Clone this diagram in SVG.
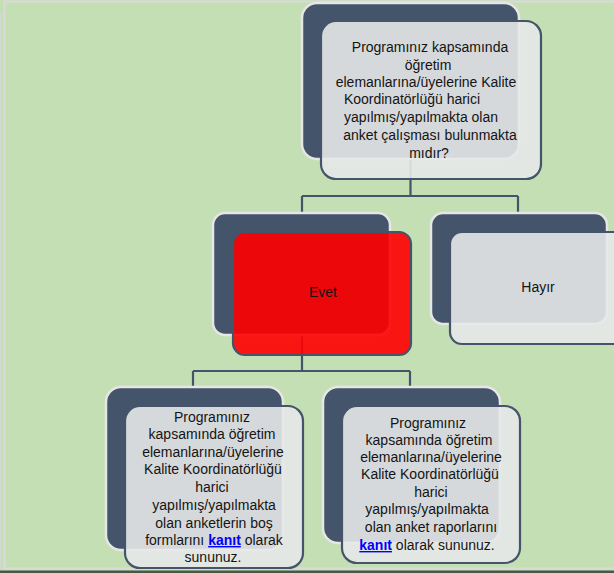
<svg xmlns="http://www.w3.org/2000/svg" width="614" height="573" viewBox="0 0 614 573">
<style>
.back{fill:#44546A;stroke:#E6E6E6;stroke-width:2.5}
.front{fill:#E7E8E8;fill-opacity:0.9;stroke:#44546A;stroke-width:2.2}
.red{fill:#FF0000;fill-opacity:0.9;stroke:#44546A;stroke-width:2.2}
.t{font-family:"Liberation Sans",Arial,sans-serif;font-size:14px;fill:#141414;text-anchor:middle}
.link{fill:#0000FF;font-weight:bold;text-decoration:underline}
.conn{fill:none;stroke:#44546A;stroke-width:2.2}
</style>
<rect x="0" y="0" width="614" height="573" fill="#C4DFB4"/>
<rect x="4.5" y="1.5" width="640" height="567" fill="none" stroke="#DADADA" stroke-width="2"/>
<line x1="1" y1="13" x2="1" y2="573" stroke="#D6D6D6" stroke-width="1.5"/>
<rect x="0" y="570.5" width="614" height="2.5" fill="#4A5646"/>
<g id="connectors">
<path class="conn" d="M410.5,159 V196 M302,196 H518 M302,196 V213 M518,196 V213"/>
<path class="conn" d="M302,335 V371 M193,371 H410 M193,371 V387 M410,371 V387"/>
</g>
<g id="node-question">
<rect class="back" x="302" y="3" width="217" height="156" rx="15"/>
<rect class="front" x="321" y="21" width="220" height="158" rx="15"/>
<text class="t" x="430" y="52">Programınız kapsamında</text>
<text class="t" x="428" y="70">öğretim</text>
<text class="t" x="426" y="87">elemanlarına/üyelerine Kalite</text>
<text class="t" x="412" y="104">Koordinatörlüğü harici</text>
<text class="t" x="421" y="122">yapılmış/yapılmakta olan</text>
<text class="t" x="430" y="140">anket çalışması bulunmakta</text>
<text class="t" x="429" y="158">mıdır?</text>
</g>
<g id="node-evet">
<rect class="back" x="213" y="213" width="177" height="122" rx="12"/>
<rect class="red" x="233" y="232" width="178" height="123" rx="12"/>
<text class="t" x="323" y="297">Evet</text>
</g>
<g id="node-hayir">
<rect class="back" x="431" y="213" width="176" height="111" rx="12"/>
<rect class="front" x="450" y="232" width="178" height="112" rx="12"/>
<text class="t" x="538" y="292">Hayır</text>
</g>
<g id="node-evet-kanit">
<rect class="back" x="106" y="387" width="177" height="163" rx="15"/>
<rect class="front" x="125" y="406" width="178" height="162" rx="15"/>
<text class="t" x="212" y="422">Programınız</text>
<text class="t" x="212" y="439">kapsamında öğretim</text>
<text class="t" x="213" y="457">elemanlarına/üyelerine</text>
<text class="t" x="213" y="474">Kalite Koordinatörlüğü</text>
<text class="t" x="212" y="492">harici</text>
<text class="t" x="214" y="510">yapılmış/yapılmakta</text>
<text class="t" x="214" y="528">olan anketlerin boş</text>
<text class="t" x="214" y="545">formlarını <tspan class="link">kanıt</tspan> olarak</text>
<text class="t" x="213" y="562">sununuz.</text>
</g>
<g id="node-hayir-kanit">
<rect class="back" x="323" y="387" width="177" height="156" rx="15"/>
<rect class="front" x="342" y="406" width="178" height="157" rx="15"/>
<text class="t" x="428" y="428">Programınız</text>
<text class="t" x="429" y="445">kapsamında öğretim</text>
<text class="t" x="431" y="462">elemanlarına/üyelerine</text>
<text class="t" x="430" y="479">Kalite Koordinatörlüğü</text>
<text class="t" x="431" y="497">harici</text>
<text class="t" x="427" y="514">yapılmış/yapılmakta</text>
<text class="t" x="431" y="532">olan anket raporlarını</text>
<text class="t" x="427" y="550"><tspan class="link">kanıt</tspan> olarak sununuz.</text>
</g>
</svg>
